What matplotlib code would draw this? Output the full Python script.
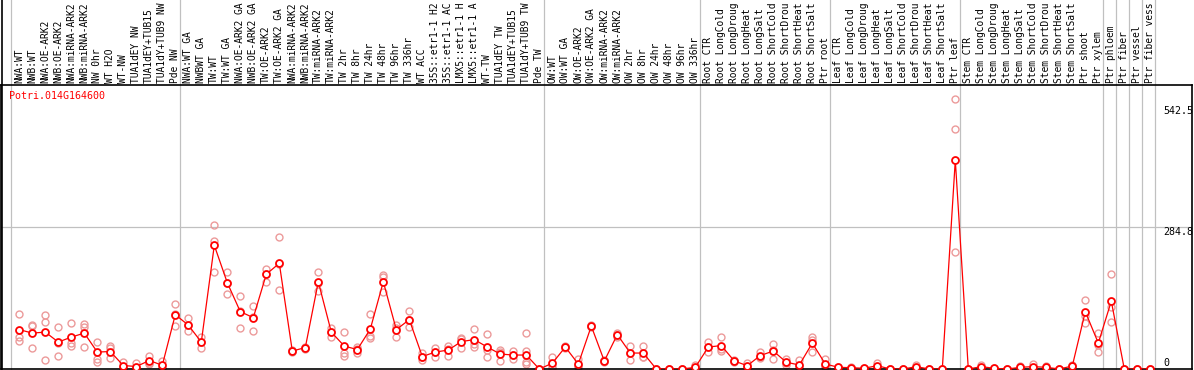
import matplotlib
matplotlib.use("Agg")
import matplotlib.pyplot as plt
from matplotlib.lines import Line2D

W, H, DPI = 1194, 370, 100

labels = [
    "NWA:WT", "NWB:WT", "NWA:OE-ARK2", "NWB:OE-ARK2", "NWA:miRNA-ARK2", "NWB:miRNA-ARK2",
    "NW 0hr", "WT H2O", "WT-NW", "TUA1dEY NW", "TUA1dEY+TUB15", "TUA1dY+TUB9 NW", "Pde NW",
    "NWA:WT GA", "NWBWT GA", "TW:WT", "TW:WT GA", "NWA:OE-ARK2 GA", "NWB:OE-ARK2 GA",
    "TW:OE-ARK2", "TW:OE-ARK2 GA", "NWA:miRNA-ARK2", "NWB:miRNA-ARK2", "TW:miRNA-ARK2",
    "TW:miRNA-ARK2", "TW 2hr", "TW 8hr", "TW 24hr", "TW 48hr", "TW 96hr", "TW 336hr",
    "WT ACC", "35S::etr1-1 H2", "35S::etr1-1 AC", "LMX5::etr1-1 H", "LMX5::etr1-1 A",
    "WT-TW", "TUA1dEY TW", "TUA1dEY+TUB15", "TUA1dY+TUB9 TW", "Pde TW",
    "OW:WT", "OW:WT GA", "OW:OE-ARK2", "OW:OE-ARK2 GA", "OW:miRNA-ARK2", "OW:miRNA-ARK2",
    "OW 2hr", "OW 8hr", "OW 24hr", "OW 48hr", "OW 96hr", "OW 336hr",
    "Root CTR", "Root LongCold", "Root LongDroug", "Root LongHeat", "Root LongSalt",
    "Root ShortCold", "Root ShortDrou", "Root ShortHeat", "Root ShortSalt", "Ptr root",
    "Leaf CTR", "Leaf LongCold", "Leaf LongDroug", "Leaf LongHeat", "Leaf LongSalt",
    "Leaf ShortCold", "Leaf ShortDrou", "Leaf ShortHeat", "Leaf ShortSalt", "Ptr leaf",
    "Stem CTR", "Stem LongCold", "Stem LongDroug", "Stem LongHeat", "Stem LongSalt",
    "Stem ShortCold", "Stem ShortDrou", "Stem ShortHeat", "Stem ShortSalt",
    "Ptr shoot", "Ptr xylem", "Ptr phloem", "Ptr fiber", "Ptr vessel", "Ptr fiber vess",
]

means = [
    79, 72, 74, 54, 64, 72, 34, 35, 7, 5, 17, 7.5, 109,
    88, 54, 248, 173, 115, 103, 190, 212, 36, 43, 175, 74, 46, 39, 80, 175, 79,
    99, 25, 34, 38, 55, 59, 44, 30, 28, 28, 0,
    11.5, 44, 10, 86, 16, 69, 32, 32, 0, 0, 0, 3.4,
    44, 47, 16, 6.7, 27, 36, 13.6, 8, 52, 10,
    3.4, 2.6, 1.4, 6.7, 0, 0, 4.7, 0, 0, 419,
    0, 4.7, 1.4, 0, 3.4, 4.7, 3.4, 0, 6, 115, 52,
    136, 0, 0, 0,
]

replicates = [
    [111, 65, 57], [88, 42, 87], [109, 95, 18], [84, 26, 52], [93, 53, 47], [90, 84, 44],
    [54, 20, 15], [47, 42, 22], [15, 3, 2], [11.5, 2, 0], [27, 13, 10], [17, 3, 2], [130, 86, 110],
    [102, 76, 88], [65, 43, 54], [289, 256, 195], [195, 150, 173], [147, 83, 116], [127, 77, 104],
    [201, 175, 190], [265, 158, 210], [38, 34, 36], [45, 41, 43], [195, 156, 173], [83, 65, 75],
    [74, 32, 27], [45, 32, 40], [111, 67, 62], [189, 185, 154], [89, 65, 82],
    [116, 84, 98], [32, 25, 18], [42, 34, 25], [47, 41, 27], [62, 60, 43], [80, 50, 45],
    [70, 38, 24], [38, 34, 16], [37, 28, 20], [73, 36, 15, 10], [0, 0, 0],
    [25, 6, 3], [46, 44, 42], [20, 6, 4], [88, 86, 85], [18, 16, 14], [73, 69, 64],
    [47, 32, 18], [47, 25, 24], [0, 0, 0], [0, 0, 0], [0, 0, 0], [8, 1, 1],
    [55, 44, 34], [64, 41, 37], [18, 16, 14], [11.5, 5, 4], [34, 24, 23], [51, 39, 20],
    [20, 12, 9], [18, 4, 3], [64, 58, 34], [20, 6, 4],
    [4, 3, 3], [5, 2, 1], [2, 1, 1], [11.5, 5, 4], [0, 0, 0], [0, 0, 0], [8, 3, 3],
    [0, 0, 0], [0, 0, 0], [542.5, 481, 234],
    [0, 0, 0], [8, 3, 3], [2, 1, 1], [0, 0, 0], [5.5, 3, 2], [10, 2, 2], [5.5, 3, 2],
    [0, 0, 0], [8, 6, 4], [138, 107, 92], [72, 35, 49],
    [190, 125, 94], [0, 0, 0], [0, 0, 0], [0, 0, 0],
]

group_starts = [0, 13, 41, 53, 63, 73, 84, 85, 86, 87, 88]
gene = "Potri.014G164600"
y_max = 569.6
grid_value = 284.8
ytick_values = [542.5, 284.8, 0]
ytick_labels = ["542.5", "284.8", "0"]

MONO = "DejaVu Sans Mono"
FS = 7.2
GRID = "#c0c0c0"
REP = "#ec9a9a"

fig = plt.figure(figsize=(W / DPI, H / DPI), dpi=DPI)
ax_h = 284
ax = fig.add_axes([1 / W, 1 / H, 1191 / W, ax_h / H])
ax.set_xlim(-1.4077, 90.2077)
ax.set_ylim(0, y_max)
ax.set_xticks([])
ax.set_yticks([])
for s in ax.spines.values():
    s.set_color("black")
    s.set_linewidth(1.2)

# grid
top_frac = 369 / ax_h
for b in group_starts:
    ax.axvline(b - 0.62, ymin=0, ymax=top_frac, color=GRID, lw=0.9, clip_on=False, zorder=1)
ax.axhline(grid_value, color=GRID, lw=0.9, zorder=1)

# left frame line extending through the label band
fig.add_artist(Line2D([1.6 / W, 1.6 / W], [1 / H, 1], color="black", lw=1.2,
                      transform=fig.transFigure))

x = list(range(len(labels)))
for i, reps in enumerate(replicates):
    ax.plot([i] * len(reps), reps, "o", mfc="none", mec=REP, ms=5.0, mew=1.0, zorder=2)
ax.plot(x, means, "-", color="red", lw=0.9, zorder=3)
ax.plot(x, means, "o", mfc="white", mec="red", ms=5.0, mew=1.3, zorder=4)

# column labels
xt = ax.get_xaxis_transform()
for i, lab in enumerate(labels):
    ax.text(i, 1 + 2 / ax_h, lab, transform=xt, rotation=90, ha="center", va="bottom",
            family=MONO, fontsize=6.95, color="black", clip_on=False)

# gene name
ax.text((9.3 - 1) / 1191, (369 - 91) / ax_h, gene, transform=ax.transAxes,
        ha="left", va="top", family=MONO, fontsize=FS, color="red")

# y value labels on the right
yt = ax.get_yaxis_transform()
offsets = [-7, 0, 11]
for v, t, off in zip(ytick_values, ytick_labels, offsets):
    ax.annotate(t, xy=((1163 - 1) / 1191, v), xycoords=yt, xytext=(0, off),
                textcoords="offset pixels", ha="left", va="top", family=MONO,
                fontsize=FS, color="black", annotation_clip=False)

fig.savefig("out.png", dpi=DPI)
